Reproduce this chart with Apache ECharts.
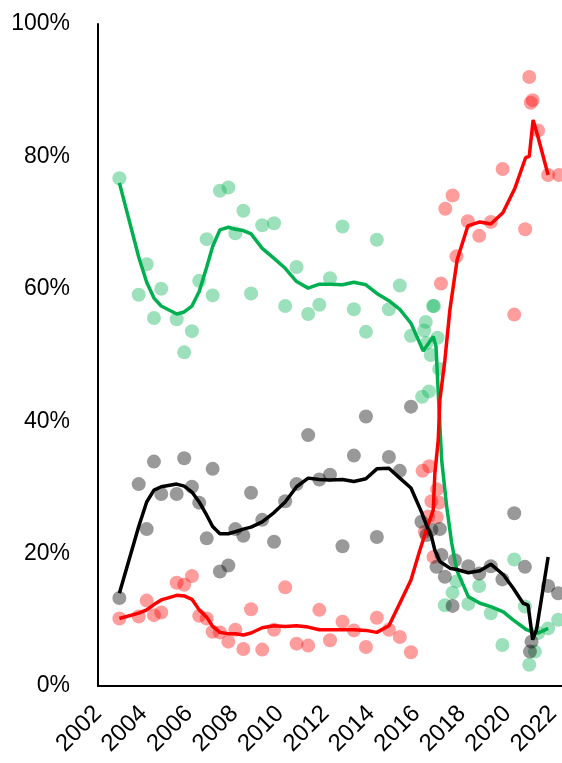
<!DOCTYPE html>
<html>
<head>
<meta charset="utf-8">
<script src="https://cdn.jsdelivr.net/npm/echarts@6/dist/echarts.min.js"></script>
<style>
  html, body { margin: 0; padding: 0; background: #fff; overflow: hidden; }
  #main { width: 562px; height: 763px; }
</style>
</head>
<body>
<div id="main"></div>
<script>
// survey points: [year, percent]
var greenDots = [
  [2002.94, 76.7], [2003.79, 59.1], [2004.14, 63.7], [2004.46, 55.6], [2004.78, 60.0],
  [2005.46, 55.4], [2005.79, 50.4], [2006.13, 53.6], [2006.45, 61.2], [2006.78, 67.5],
  [2007.04, 59.0], [2007.36, 74.8], [2007.73, 75.3], [2008.04, 68.4], [2008.39, 71.8],
  [2008.73, 59.3], [2009.22, 69.6], [2009.74, 69.9], [2010.23, 57.4], [2010.73, 63.3],
  [2011.24, 56.2], [2011.73, 57.6], [2012.20, 61.6], [2012.75, 69.4], [2013.25, 56.9],
  [2013.78, 53.5], [2014.26, 67.4], [2014.79, 56.9], [2015.27, 60.5], [2015.76, 52.9],
  [2016.25, 43.7], [2016.34, 53.7], [2016.41, 55.0], [2016.44, 51.8], [2016.55, 44.5],
  [2016.63, 50.0], [2016.73, 57.4], [2016.77, 57.4], [2016.93, 52.6], [2017.00, 47.9],
  [2017.25, 12.2], [2017.59, 14.1], [2017.76, 15.8], [2018.28, 12.4], [2018.76, 15.1],
  [2019.27, 11.0], [2019.78, 6.2], [2020.30, 19.1], [2020.77, 12.0], [2020.96, 3.2],
  [2021.21, 5.2], [2021.35, 8.0], [2021.79, 8.7], [2022.23, 10.0]
];
var redDots = [
  [2002.94, 10.2], [2003.79, 10.5], [2004.14, 12.9], [2004.46, 10.7], [2004.78, 11.1],
  [2005.46, 15.6], [2005.79, 15.3], [2006.13, 16.6], [2006.45, 10.6], [2006.78, 10.2],
  [2007.04, 8.2], [2007.36, 8.1], [2007.73, 6.7], [2008.04, 8.5], [2008.39, 5.6],
  [2008.73, 11.6], [2009.22, 5.5], [2009.74, 8.5], [2010.23, 14.9], [2010.73, 6.4],
  [2011.24, 6.1], [2011.73, 11.5], [2012.20, 6.9], [2012.75, 9.7], [2013.25, 8.4],
  [2013.78, 5.9], [2014.26, 10.3], [2014.79, 8.5], [2015.27, 7.4], [2015.76, 5.1],
  [2016.27, 32.5], [2016.56, 33.2], [2016.91, 29.7], [2016.66, 27.9], [2017.00, 27.7],
  [2016.89, 25.5], [2016.52, 25.6], [2016.37, 23.3], [2016.75, 19.5], [2017.08, 60.8],
  [2017.27, 72.1], [2017.59, 74.1], [2017.76, 64.9], [2018.26, 70.2], [2018.76, 68.0],
  [2019.27, 70.1], [2019.79, 78.1], [2020.30, 56.1], [2020.78, 69.0], [2020.96, 92.0],
  [2021.03, 88.1], [2021.11, 88.5], [2021.35, 83.9], [2021.79, 77.2], [2022.27, 77.2]
];
var blackDots = [
  [2002.94, 13.3], [2003.79, 30.5], [2004.14, 23.7], [2004.46, 33.9], [2004.78, 29.0],
  [2005.46, 29.0], [2005.79, 34.4], [2006.13, 30.1], [2006.45, 27.7], [2006.78, 22.3],
  [2007.04, 32.8], [2007.36, 17.3], [2007.73, 18.2], [2008.04, 23.7], [2008.39, 22.7],
  [2008.73, 29.2], [2009.22, 25.1], [2009.74, 21.8], [2010.23, 27.9], [2010.73, 30.5],
  [2011.24, 37.9], [2011.73, 31.2], [2012.20, 31.9], [2012.75, 21.1], [2013.25, 34.8],
  [2013.78, 40.7], [2014.26, 22.5], [2014.79, 34.6], [2015.27, 32.5], [2015.76, 42.2],
  [2016.22, 24.8], [2016.44, 22.8], [2016.66, 23.6], [2017.03, 23.7], [2017.10, 19.8],
  [2016.88, 18.0], [2017.25, 16.5], [2017.59, 12.1], [2017.69, 19.0], [2018.28, 18.1],
  [2018.76, 17.0], [2019.27, 18.1], [2019.78, 16.1], [2020.30, 26.1], [2020.77, 18.0],
  [2020.99, 5.2], [2021.06, 6.7], [2021.79, 15.1], [2022.23, 14.0]
];

// smoothed trend lines
var greenTrend = [
  [2002.94, 76.0], [2003.79, 64.8], [2004.14, 61.0], [2004.46, 58.6], [2004.78, 57.4],
  [2005.46, 56.2], [2005.79, 56.5], [2006.13, 57.4], [2006.45, 59.6], [2006.78, 63.3],
  [2007.04, 66.4], [2007.36, 68.9], [2007.73, 69.3], [2008.04, 69.0], [2008.39, 68.8],
  [2008.73, 68.3], [2009.22, 66.1], [2009.74, 64.6], [2010.23, 63.1], [2010.73, 61.1],
  [2011.24, 60.1], [2011.73, 60.7], [2012.20, 60.7], [2012.75, 60.6], [2013.25, 61.0],
  [2013.78, 60.6], [2014.26, 59.3], [2014.79, 58.2], [2015.27, 56.9], [2015.76, 54.8],
  [2016.30, 50.6], [2016.74, 52.8], [2016.86, 51.3], [2016.96, 44.2], [2017.11, 34.1],
  [2017.33, 27.1], [2017.55, 21.6], [2017.77, 17.5], [2018.28, 13.5], [2018.79, 12.5],
  [2019.27, 12.0], [2019.82, 11.2], [2020.25, 10.0], [2020.84, 8.5], [2021.06, 8.2],
  [2021.35, 8.0], [2021.79, 8.7]
];
var redTrend = [
  [2002.94, 10.2], [2003.79, 11.0], [2004.14, 11.5], [2004.46, 12.3], [2004.78, 13.0],
  [2005.46, 13.7], [2005.79, 13.6], [2006.13, 13.1], [2006.45, 11.5], [2006.78, 10.4],
  [2007.04, 9.0], [2007.36, 8.1], [2007.73, 7.9], [2008.04, 7.9], [2008.39, 7.7],
  [2008.73, 8.0], [2009.22, 8.8], [2009.74, 9.1], [2010.23, 9.0], [2010.73, 9.1],
  [2011.24, 8.9], [2011.73, 8.5], [2012.20, 8.5], [2012.75, 8.5], [2013.25, 8.5],
  [2013.78, 8.4], [2014.26, 8.1], [2014.79, 9.1], [2015.27, 12.5], [2015.76, 16.0],
  [2016.15, 20.5], [2016.44, 23.6], [2016.74, 26.6], [2016.81, 32.1], [2016.96, 37.2],
  [2017.03, 43.2], [2017.25, 49.2], [2017.47, 56.8], [2017.79, 64.4], [2018.26, 69.5],
  [2018.79, 70.1], [2019.27, 69.8], [2019.80, 71.5], [2020.33, 75.2], [2020.80, 79.8],
  [2020.96, 80.0], [2021.13, 85.5], [2021.34, 83.0], [2021.79, 77.2]
];
var blackTrend = [
  [2002.94, 14.0], [2003.79, 24.1], [2004.14, 27.8], [2004.46, 29.6], [2004.78, 30.1],
  [2005.46, 30.5], [2005.79, 30.2], [2006.13, 29.3], [2006.45, 27.8], [2006.78, 25.8],
  [2007.04, 24.1], [2007.36, 23.0], [2007.73, 23.0], [2008.04, 23.3], [2008.39, 23.7],
  [2008.73, 24.0], [2009.22, 24.8], [2009.74, 26.2], [2010.23, 27.8], [2010.73, 30.1],
  [2011.24, 31.4], [2011.73, 31.2], [2012.20, 31.1], [2012.75, 31.2], [2013.25, 30.9],
  [2013.78, 31.3], [2014.26, 32.8], [2014.79, 32.9], [2015.27, 31.4], [2015.76, 29.9],
  [2016.22, 26.3], [2016.44, 24.3], [2016.66, 22.6], [2016.81, 20.5], [2017.03, 18.8],
  [2017.47, 17.8], [2017.77, 17.6], [2018.28, 17.1], [2018.79, 17.4], [2019.27, 18.4],
  [2019.82, 16.8], [2020.25, 14.8], [2020.69, 12.5], [2020.91, 12.2], [2021.11, 7.0],
  [2021.28, 8.5], [2021.79, 19.5]
];

var labelFont = '"Liberation Sans", Arial, sans-serif';

function dots(data, color) {
  return {
    type: 'scatter',
    data: data,
    symbolSize: 14,
    itemStyle: { color: color },
    silent: true,
    z: 2
  };
}
function trend(data, color) {
  return {
    type: 'line',
    data: data,
    showSymbol: false,
    lineStyle: { color: color, width: 3.5 },
    silent: true,
    z: 3
  };
}

var chart = echarts.init(document.getElementById('main'));
chart.setOption({
  animation: false,
  grid: { left: 98, right: 0, top: 24, bottom: 77, containLabel: false, outerBoundsMode: 'none' },
  xAxis: {
    type: 'value',
    min: 2002,
    max: 2022.4,
    interval: 2,
    splitLine: { show: false },
    axisTick: { show: false },
    axisLine: { lineStyle: { color: '#000', width: 2 } },
    axisLabel: {
      rotate: 45,
      margin: 24,
      color: '#000',
      fontSize: 24,
      fontFamily: labelFont,
      showMaxLabel: false,
      formatter: function (v) { return v % 2 === 0 ? String(v) : ''; }
    }
  },
  yAxis: {
    type: 'value',
    min: 0,
    max: 100,
    interval: 20,
    splitLine: { show: false },
    axisTick: { show: false },
    axisLine: { show: true, lineStyle: { color: '#000', width: 2 } },
    axisLabel: {
      margin: 28,
      color: '#000',
      fontSize: 23,
      fontFamily: labelFont,
      formatter: '{value}%'
    }
  },
  series: [
    dots(greenDots, 'rgba(0,176,80,0.48)'),
    dots(redDots, 'rgba(255,0,0,0.48)'),
    dots(blackDots, 'rgba(0,0,0,0.5)'),
    trend(greenTrend, '#00b050'),
    trend(redTrend, '#ff0000'),
    trend(blackTrend, '#000000')
  ]
});
</script>
</body>
</html>
